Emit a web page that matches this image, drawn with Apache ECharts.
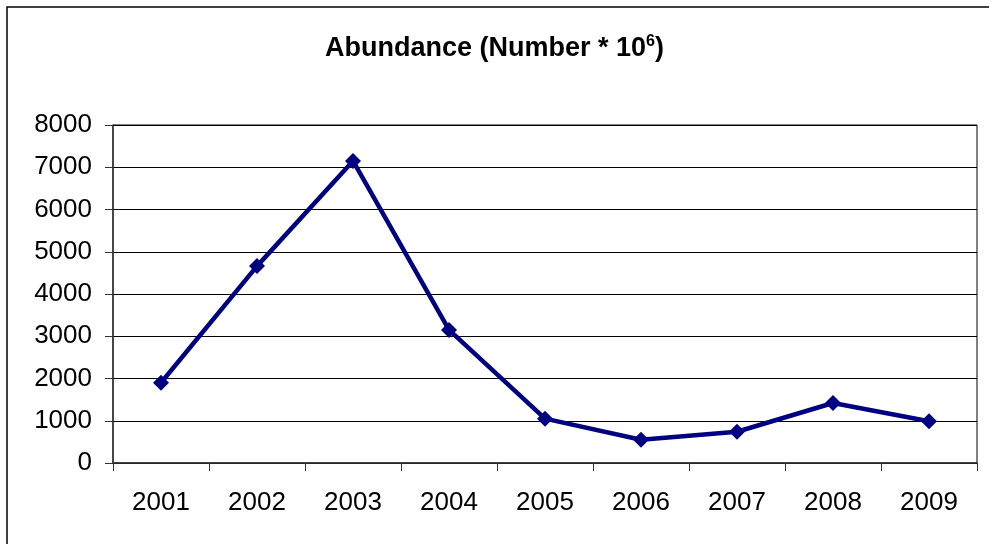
<!DOCTYPE html>
<html>
<head>
<meta charset="utf-8">
<script src="https://cdn.jsdelivr.net/npm/echarts@6/dist/echarts.min.js"></script>
<style>html,body{margin:0;padding:0;background:#fff;}#chart{width:989px;height:544px;}</style>
</head>
<body>
<div id="chart"></div>
<script>
const years = ['2001','2002','2003','2004','2005','2006','2007','2008','2009'];
const abundance = [1900, 4660, 7150, 3150, 1050, 550, 740, 1420, 990];
const yTicks = {min: 0, max: 8000, interval: 1000};

const chart = echarts.init(document.getElementById('chart'));
chart.setOption({
  animation: false,
  backgroundColor: '#fff',
  textStyle: {fontFamily: 'Liberation Sans, Arial, sans-serif'},
  graphic: [{
    type: 'rect', z: 100, silent: true,
    shape: {x: 7, y: 7, width: 1000, height: 560},
    style: {fill: 'none', stroke: '#000', lineWidth: 1.5}
  }],
  title: {
    text: 'Abundance (Number * 10{sup|6})',
    left: 'center', top: 29,
    textStyle: {
      fontSize: 27, fontWeight: 'bold', color: '#000', fontFamily: 'Liberation Sans',
      rich: {sup: {fontSize: 16, fontWeight: 'bold', color: '#000', fontFamily: 'Liberation Sans', padding: [0, 0, 14, 0]}}
    }
  },
  grid: {left: 113, top: 125, right: 12, bottom: 81, show: true, borderColor: '#000', borderWidth: 1},
  xAxis: {
    type: 'category', data: years, boundaryGap: true,
    axisLine: {lineStyle: {color: '#333', width: 1.5}},
    axisTick: {show: true, length: 8, lineStyle: {color: '#333'}},
    axisLabel: {color: '#000', fontSize: 26, margin: 27, fontFamily: 'Liberation Sans'}
  },
  yAxis: {
    type: 'value', min: yTicks.min, max: yTicks.max, interval: yTicks.interval,
    axisLine: {show: true, lineStyle: {color: '#333', width: 1.5}},
    axisTick: {show: true, length: 8, lineStyle: {color: '#333'}},
    axisLabel: {color: '#000', fontSize: 26, margin: 21, fontFamily: 'Liberation Sans', formatter: v => String(v)},
    splitLine: {show: true, lineStyle: {color: '#000', width: 1}}
  },
  series: [{
    type: 'line', data: abundance,
    symbol: 'diamond', symbolSize: 16,
    lineStyle: {color: '#000080', width: 4.5},
    itemStyle: {color: '#000080'}
  }]
});
</script>
</body>
</html>
